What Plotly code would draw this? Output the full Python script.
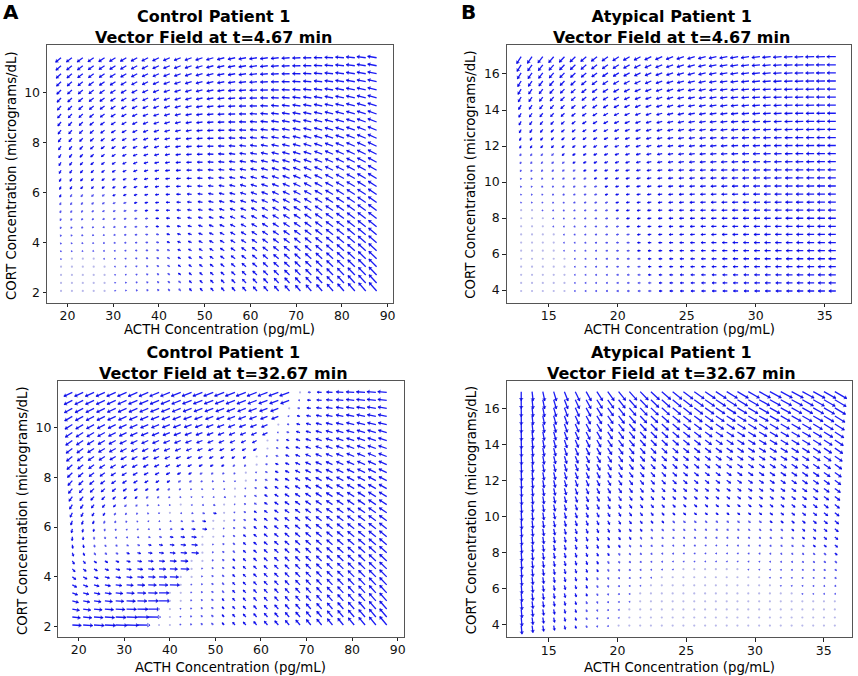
import numpy as np
import plotly.graph_objects as go

# --- sampling grid of the vector fields (30 x 30 points per patient) ---
ACTH_CONTROL = [18.60, 20.98, 23.36, 25.74, 28.12, 30.50, 32.88, 35.26, 37.63, 40.01,
                42.39, 44.77, 47.15, 49.53, 51.91, 54.29, 56.67, 59.05, 61.43, 63.81,
                66.19, 68.57, 70.94, 73.32, 75.70, 78.08, 80.46, 82.84, 85.22, 87.60]
CORT_CONTROL = [2.07, 2.39, 2.71, 3.04, 3.36, 3.68, 4.00, 4.32, 4.64, 4.97,
                5.29, 5.61, 5.93, 6.25, 6.57, 6.90, 7.22, 7.54, 7.86, 8.18,
                8.50, 8.83, 9.15, 9.47, 9.79, 10.11, 10.44, 10.76, 11.08, 11.40]
ACTH_ATYPICAL = [13.00, 13.79, 14.57, 15.36, 16.14, 16.93, 17.72, 18.50, 19.29, 20.08,
                 20.86, 21.65, 22.43, 23.22, 24.01, 24.79, 25.58, 26.37, 27.15, 27.94,
                 28.72, 29.51, 30.30, 31.08, 31.87, 32.66, 33.44, 34.23, 35.01, 35.80]
CORT_ATYPICAL = [3.95, 4.40, 4.85, 5.30, 5.74, 6.19, 6.64, 7.09, 7.54, 7.99,
                 8.44, 8.88, 9.33, 9.78, 10.23, 10.68, 11.13, 11.58, 12.03, 12.47,
                 12.92, 13.37, 13.82, 14.27, 14.72, 15.16, 15.61, 16.06, 16.51, 16.96]

# --- arrows at anchor nodes (arrow length in px, u right / v up)
# rows = CORT position (bottom, middle, top), cols = ACTH position (left ... right)
NODES = [0.0, 0.5, 1.0]
NODES_ATYP_T2 = [0.0, 0.25, 0.5, 1.0]

CTRL_T1_U = [[0.0, -2.8, -7.5], [-1.8, -5.5, -8.5], [-5.5, -7.0, -9.0]]
CTRL_T1_V = [[0.0, 3.2, 8.5], [-3.2, 0.8, 5.0], [-4.5, -2.0, 1.5]]

# control t=32.67: quiet band starting at these ACTH values (bottom row, top row)
CTRL_T2_BAND = [34.5, 67.6]
# left of the band (cols: left edge, halfway, band edge)
CTRL_T2_LEFT_U = [[9.0, 11.0, 13.0], [-2.5, -1.0, 3.0], [-8.5, -9.5, -9.5]]
CTRL_T2_LEFT_V = [[-0.5, -0.5, 0.0], [-4.5, -1.5, -1.0], [-4.0, -3.8, -3.5]]
# right of the band (cols: band edge, halfway, right edge)
CTRL_T2_RIGHT_U = [[0.0, -3.2, -7.0], [0.0, -5.0, -7.5], [0.0, -7.0, -9.0]]
CTRL_T2_RIGHT_V = [[0.0, 3.8, 8.5], [0.0, 3.5, 5.0], [0.0, 0.5, 0.8]]

ATYP_T1_U = [[0.0, -3.5, -7.0], [-0.8, -5.0, -8.0], [-4.5, -7.0, -9.0]]
ATYP_T1_V = [[0.0, 0.0, 0.0], [-1.8, -0.6, 0.0], [-7.0, -2.5, 0.0]]

ATYP_T2_U = [[0.8, 0.8, 0.0, 0.0], [0.5, 2.2, 2.5, 4.5], [0.0, 6.0, 9.5, 12.0]]
ATYP_T2_V = [[-8.5, -1.5, 0.0, 0.0], [-8.5, -4.5, -2.5, -3.5], [-9.0, -9.0, -7.5, -7.0]]

TICKS_ACTH_CONTROL = [20, 30, 40, 50, 60, 70, 80, 90]
TICKS_CORT_CONTROL = [2, 4, 6, 8, 10]
TICKS_ACTH_ATYPICAL = [15, 20, 25, 30, 35]
TICKS_CORT_ATYPICAL = [4, 6, 8, 10, 12, 14, 16]

W, H = 858, 676
FONT = 'DejaVu Sans'


def lagrange(nodes, x):
    w = np.ones(len(nodes))
    for i, xi in enumerate(nodes):
        for j, xj in enumerate(nodes):
            if j != i:
                w[i] *= (x - xj) / (xi - xj)
    return w


def read_table(tab, s_nodes, t_nodes, s, t):
    return float(lagrange(t_nodes, t) @ np.array(tab, float) @ lagrange(s_nodes, s))


def plain_field(tu, tv, s_nodes=NODES, t_nodes=NODES):
    def f(s, t):
        return (read_table(tu, s_nodes, t_nodes, s, t),
                read_table(tv, s_nodes, t_nodes, s, t))
    return f


def band_field(band, lu, lv, ru, rv, acth):
    x0, x1 = acth[0], acth[-1]

    def f(s, t):
        xb = band[0] + (band[1] - band[0]) * t
        sb = (xb - x0) / (x1 - x0)
        if s < sb:
            sp = s / sb
            return (read_table(lu, NODES, NODES, sp, t), read_table(lv, NODES, NODES, sp, t))
        sp = (s - sb) / (1 - sb)
        return (read_table(ru, NODES, NODES, sp, t), read_table(rv, NODES, NODES, sp, t))
    return f


DARK, LIGHT = '#1c1cf5', '#5a5af0'


def quiver_traces(field, acth, cort, kx, ky, xa, ya):
    x0, x1 = acth[0], acth[-1]
    y0, y1 = cort[0], cort[-1]
    shafts = {DARK: ([], []), LIGHT: ([], [])}
    hx, hy, ha, hs, hc = [], [], [], [], []
    dx, dy = [], []
    for yv in cort:
        for xv in acth:
            s = (xv - x0) / (x1 - x0)
            t = (yv - y0) / (y1 - y0)
            u, v = field(s, t)
            ln = float(np.hypot(u, v))
            if ln < 1.1:
                dx.append(xv)
                dy.append(yv)
                continue
            col = DARK if ln >= 3.0 else LIGHT
            xe, ye = xv + u / kx, yv + v / ky
            shafts[col][0].extend([xv, xe, None])
            shafts[col][1].extend([yv, ye, None])
            size = min(4.0, 1.8 + 0.3 * ln)
            back = 0.4 * size / ln
            hx.append(xe - u * back / kx)
            hy.append(ye - v * back / ky)
            ha.append(float(np.degrees(np.arctan2(u, v))))
            hs.append(size)
            hc.append('#0000dd' if ln >= 3.0 else '#5050ea')
    out = []
    for col, (sx, sy) in shafts.items():
        out.append(go.Scatter(x=sx, y=sy, mode='lines', line=dict(color=col, width=1.3),
                              xaxis=xa, yaxis=ya, hoverinfo='skip', showlegend=False))
    out.append(go.Scatter(x=hx, y=hy, mode='markers', xaxis=xa, yaxis=ya,
                          marker=dict(symbol='triangle-up', size=hs, angle=ha, color=hc,
                                      line=dict(width=0)),
                          hoverinfo='skip', showlegend=False))
    out.append(go.Scatter(x=dx, y=dy, mode='markers', xaxis=xa, yaxis=ya,
                          marker=dict(symbol='circle', size=2.2, color='#b8b8ea',
                                      line=dict(width=0)),
                          hoverinfo='skip', showlegend=False))
    return out


# panel geometry (px in the 858 x 676 page) and axis ranges
panels = [
    dict(ax='', box=(47.3, 394.0, 45.0, 302.7), xr=[15.56, 91.1], yr=[1.6, 11.91],
         acth=ACTH_CONTROL, cort=CORT_CONTROL, xt=TICKS_ACTH_CONTROL, yt=TICKS_CORT_CONTROL,
         field=plain_field(CTRL_T1_U, CTRL_T1_V)),
    dict(ax='2', box=(508.7, 854.0, 45.0, 302.7), xr=[11.97, 36.9], yr=[3.3, 17.61],
         acth=ACTH_ATYPICAL, cort=CORT_ATYPICAL, xt=TICKS_ACTH_ATYPICAL, yt=TICKS_CORT_ATYPICAL,
         field=plain_field(ATYP_T1_U, ATYP_T1_V)),
    dict(ax='3', box=(58.7, 405.0, 380.7, 636.7), xr=[15.56, 91.3], yr=[1.6, 11.87],
         acth=ACTH_CONTROL, cort=CORT_CONTROL, xt=TICKS_ACTH_CONTROL, yt=TICKS_CORT_CONTROL,
         field=band_field(CTRL_T2_BAND, CTRL_T2_LEFT_U, CTRL_T2_LEFT_V,
                          CTRL_T2_RIGHT_U, CTRL_T2_RIGHT_V, ACTH_CONTROL)),
    dict(ax='4', box=(508.7, 855.0, 380.7, 637.3), xr=[11.96, 37.05], yr=[3.3, 17.57],
         acth=ACTH_ATYPICAL, cort=CORT_ATYPICAL, xt=TICKS_ACTH_ATYPICAL, yt=TICKS_CORT_ATYPICAL,
         field=plain_field(ATYP_T2_U, ATYP_T2_V, NODES_ATYP_T2, NODES)),
]

fig = go.Figure()
layout = dict(width=W, height=H, margin=dict(l=0, r=0, t=0, b=0),
              paper_bgcolor='white', plot_bgcolor='white', showlegend=False)

for p in panels:
    l, r, top, bot = p['box']
    kx = (r - l) / (p['xr'][1] - p['xr'][0])
    ky = (bot - top) / (p['yr'][1] - p['yr'][0])
    xa, ya = 'x' + p['ax'], 'y' + p['ax']
    for tr in quiver_traces(p['field'], p['acth'], p['cort'], kx, ky, xa, ya):
        fig.add_trace(tr)
    common = dict(ticks='outside', ticklen=3.5, tickwidth=1, tickcolor='#222',
                  showline=True, mirror=True, linecolor='#555', linewidth=1.2,
                  showgrid=False, zeroline=False,
                  tickfont=dict(family=FONT, size=12.5, color='#111'))
    layout['xaxis' + p['ax']] = dict(domain=[l / W, r / W], range=p['xr'], tickvals=p['xt'],
                                    anchor=ya, ticklabelstandoff=-2, **common)
    layout['yaxis' + p['ax']] = dict(domain=[1 - bot / H, 1 - top / H], range=p['yr'],
                                    tickvals=p['yt'], anchor=xa, **common)

# text: (x px, y px, text, size, bold, angle)
texts = [
    (11, 12, 'A', 20, True, 0),
    (470, 12, 'B', 20, True, 0),
    (214, 27.5, 'Control Patient 1<br>Vector Field at t=4.67 min', 16, True, 0),
    (674, 27.5, 'Atypical Patient 1<br>Vector Field at t=4.67 min', 16, True, 0),
    (224.5, 363, 'Control Patient 1<br>Vector Field at t=32.67 min', 16, True, 0),
    (674, 363, 'Atypical Patient 1<br>Vector Field at t=32.67 min', 16, True, 0),
    (220, 329, 'ACTH Concentration (pg/mL)', 13.3, False, 0),
    (681.5, 329, 'ACTH Concentration (pg/mL)', 13.3, False, 0),
    (231.5, 667, 'ACTH Concentration (pg/mL)', 13.3, False, 0),
    (681.5, 667, 'ACTH Concentration (pg/mL)', 13.3, False, 0),
    (12, 175, 'CORT Concentration (micrograms/dL)', 13.3, False, -90),
    (471.5, 174, 'CORT Concentration (micrograms/dL)', 13.3, False, -90),
    (22, 510, 'CORT Concentration (micrograms/dL)', 13.3, False, -90),
    (473, 510, 'CORT Concentration (micrograms/dL)', 13.3, False, -90),
]
annotations = []
for x, y, txt, size, bold, ang in texts:
    annotations.append(dict(
        x=x / W, y=1 - y / H, xref='paper', yref='paper', showarrow=False,
        text='<b>' + txt + '</b>' if bold else txt, textangle=ang,
        xanchor='center', yanchor='middle', align='center',
        font=dict(family=FONT, size=size, color='black')))
layout['annotations'] = annotations

fig.update_layout(**layout)
# page body margin would shift the 858x676 figure; remove it
fig.write_html('out.html', config={'displayModeBar': False},
               post_script="document.body.style.margin = '0px';")
